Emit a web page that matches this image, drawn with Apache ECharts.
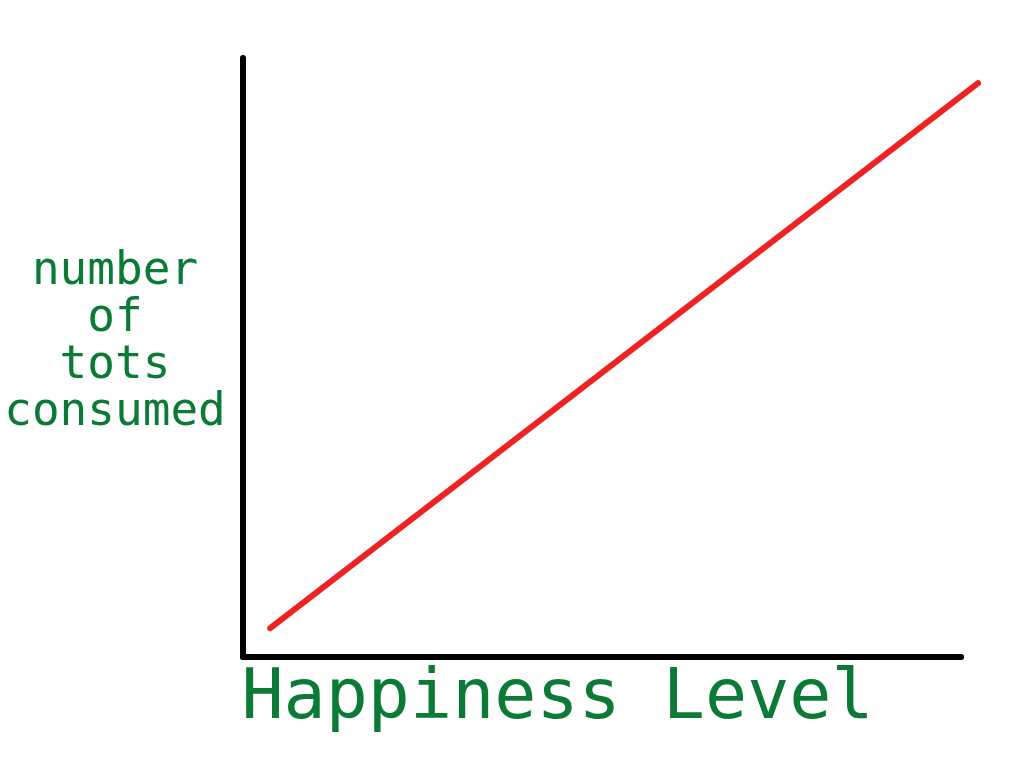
<!DOCTYPE html>
<html>
<head>
<meta charset="utf-8">
<script src="https://cdn.jsdelivr.net/npm/echarts@6/dist/echarts.min.js"></script>
<style>html,body{margin:0;padding:0;background:#fff;}#chart{width:1024px;height:768px;}</style>
</head>
<body>
<div id="chart"></div>
<script>
// Data (arbitrary 0–10 scales, no ticks shown)
const xName = 'Happiness Level';
const yName = 'number\nof\ntots\nconsumed';
const happiness = [0.37, 10];
const tots = [0.48, 9.58];
const xAxisEnd = 9.77; // hand-drawn x axis stops short of the line's end

const points = happiness.map((x, i) => [x, tots[i]]);
const green = '#0b7a36';

const chart = echarts.init(document.getElementById('chart'));
chart.setOption({
  backgroundColor: '#ffffff',
  animation: false,
  title: {
    text: yName, left: 115, top: 249, textAlign: 'center', padding: 0,
    textStyle: { color: green, fontFamily: 'DejaVu Sans Mono', fontSize: 46, lineHeight: 47, fontWeight: 'normal', align: 'center' }
  },
  grid: { left: 243, right: 46, top: 58, bottom: 111 },
  xAxis: {
    type: 'value', min: 0, max: 10,
    name: xName, nameLocation: 'middle', nameGap: 4,
    nameTextStyle: { color: green, fontFamily: 'DejaVu Sans Mono', fontSize: 70, lineHeight: 78, padding: [0, 106, 0, 0], verticalAlign: 'top' },
    axisLine: { show: false },
    axisTick: { show: false }, axisLabel: { show: false }, splitLine: { show: false }
  },
  yAxis: {
    type: 'value', min: 0, max: 10,
    axisLine: { lineStyle: { color: '#000', width: 6, cap: 'round' } },
    axisTick: { show: false }, axisLabel: { show: false }, splitLine: { show: false }
  },
  series: [{
    type: 'line', data: points, showSymbol: false, symbol: 'none', z: 3,
    lineStyle: { color: '#ee2222', width: 6, cap: 'round' },
    markLine: {
      silent: true, symbol: ['none', 'none'], label: { show: false },
      lineStyle: { color: '#000', width: 6, type: 'solid', cap: 'round' },
      data: [[{ coord: [0, 0] }, { coord: [xAxisEnd, 0] }]]
    }
  }]
});
</script>
</body>
</html>
